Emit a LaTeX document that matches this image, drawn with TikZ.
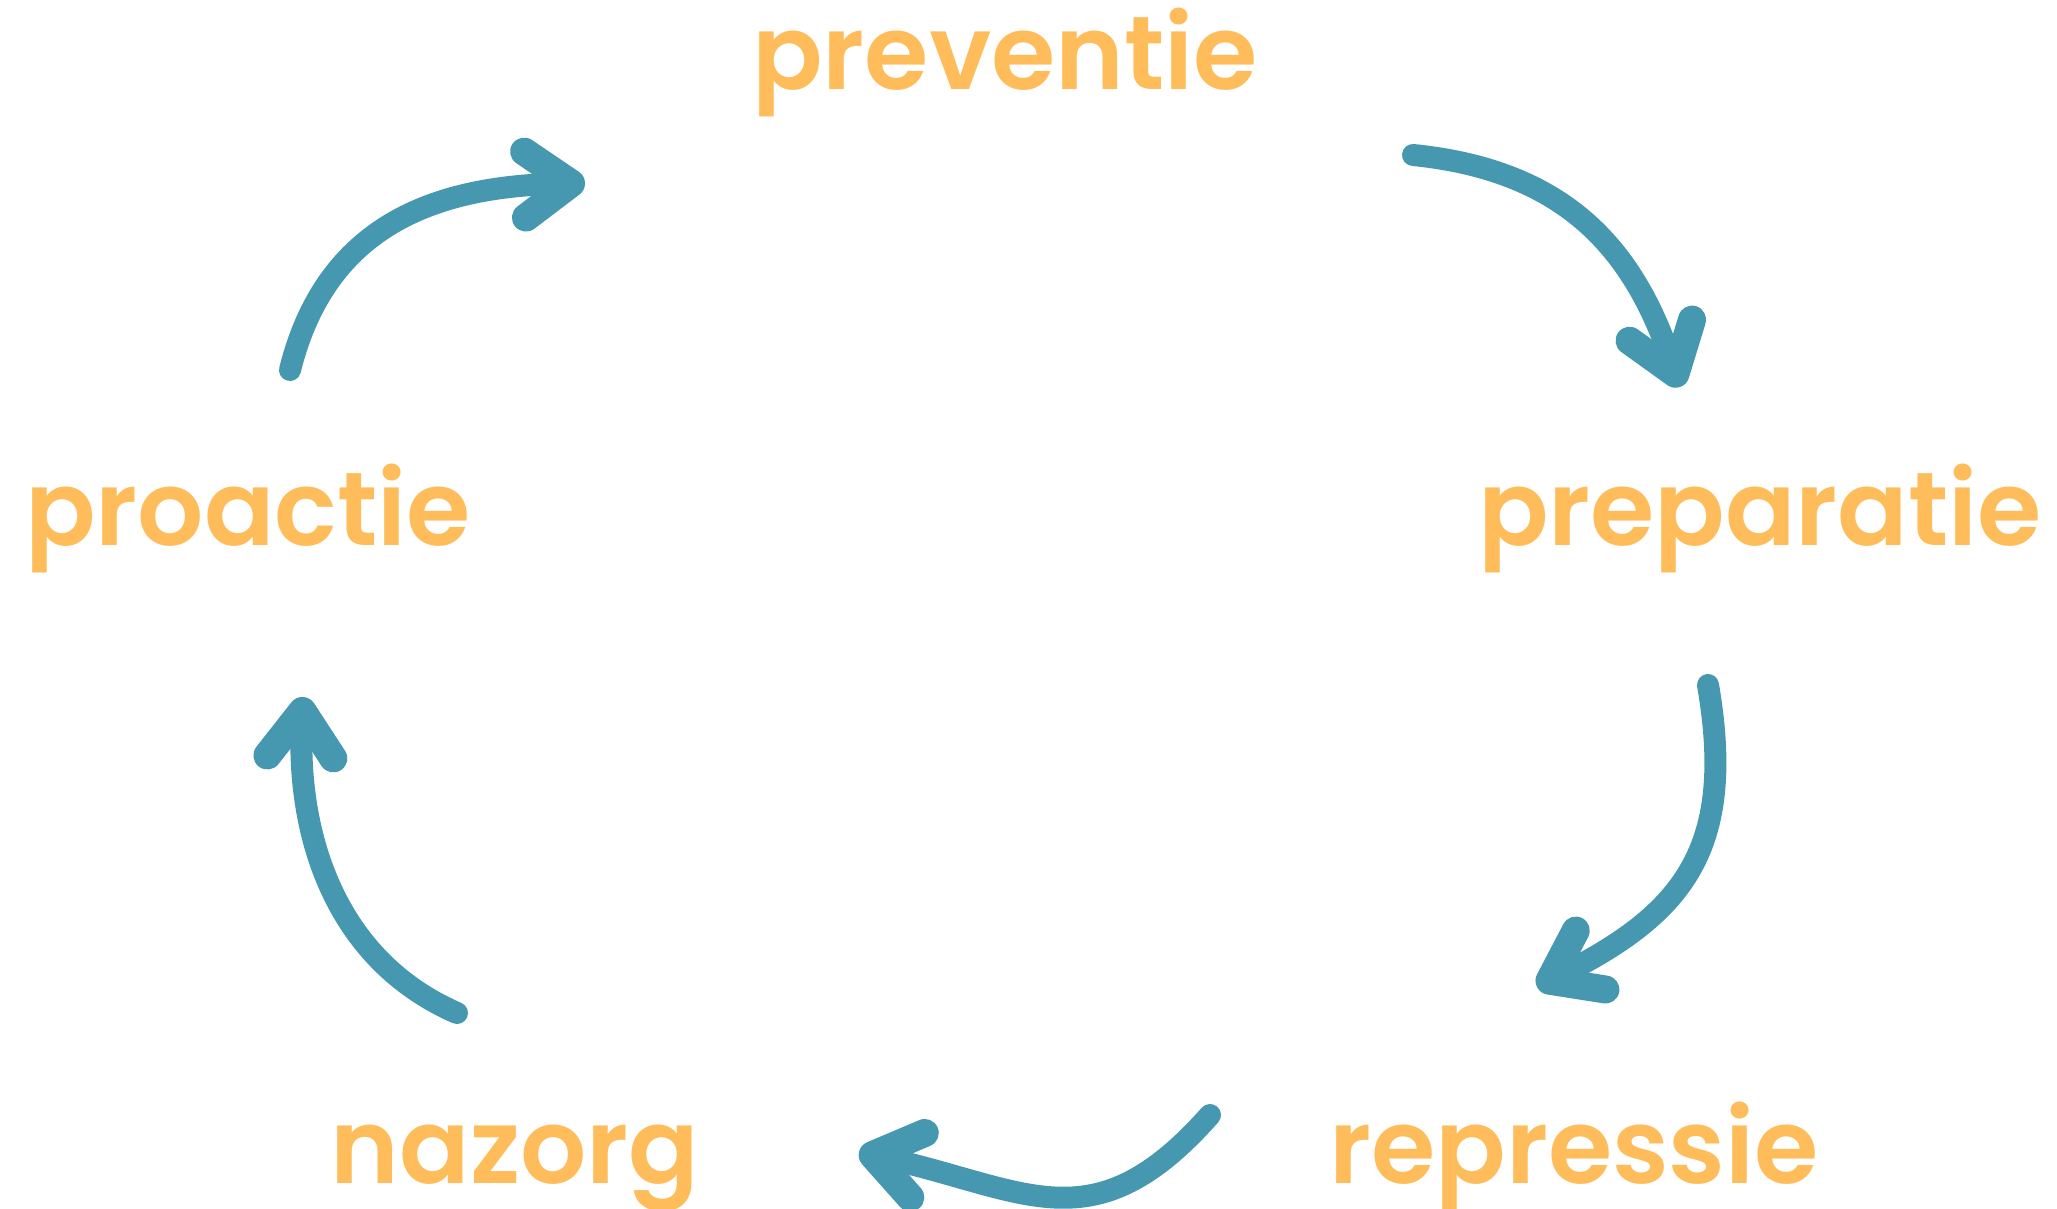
\documentclass[tikz,border=0pt]{standalone}
\usepackage{fontspec}
\setmainfont{Poppins}
\newfontfamily\labelfont{Poppins SemiBold}
\usepackage{tikz}
\usetikzlibrary{arrows.meta}
\definecolor{labelorange}{HTML}{FEBD5A}
\definecolor{arrowteal}{HTML}{4598B0}
\newcommand{\labelsize}{\fontsize{104}{115}\selectfont}

\begin{document}
\begin{tikzpicture}[x=1pt,y=-1pt]
\useasboundingbox (0,0) rectangle (2057,1209);
\tikzstyle{phase}=[text=labelorange,
                   font=\labelfont\labelsize,
                   anchor=base,
                   inner sep=0pt
                   ]
\tikzstyle{cycle}=[draw=arrowteal,
                   line width=22pt,
                   line cap=round,
                   line join=round,
                   -{Straight Barb[length=46pt,width=66pt,line width=28pt 0,round]}
                   ]

\node[phase] (preventie) at (1005,90) {preventie};
\node[phase] (preparatie) at (1760,545) {preparatie};
\node[phase] (repressie) at (1574,1183) {repressie};
\node[phase] (nazorg) at (515,1183) {nazorg};
\node[phase] (proactie) at (248,545) {proactie};

\coordinate (a1) at (290,370);  \coordinate (b1) at (585,183);
\coordinate (a2) at (1413,155); \coordinate (b2) at (1680,387);
\coordinate (a3) at (1708,685); \coordinate (b3) at (1537,987);
\coordinate (a4) at (1210,1115); \coordinate (b4) at (859,1152);
\coordinate (a5) at (457,1013); \coordinate (b5) at (303,697);

% hand drawn arcs between the phases
\draw[cycle] (a1) .. controls (326,225) and (435,187) .. (b1);
\draw[cycle] (a2) .. controls (1562,170) and (1632,245) .. (b2);
\draw[cycle] (a3) .. controls (1736,848) and (1684,913) .. (b3);
\draw[cycle] (a4) .. controls (1094,1246) and (1028,1190) .. (b4);
\draw[cycle] (a5) .. controls (333,959) and (297,832) .. (b5);

\end{tikzpicture}
\end{document}
